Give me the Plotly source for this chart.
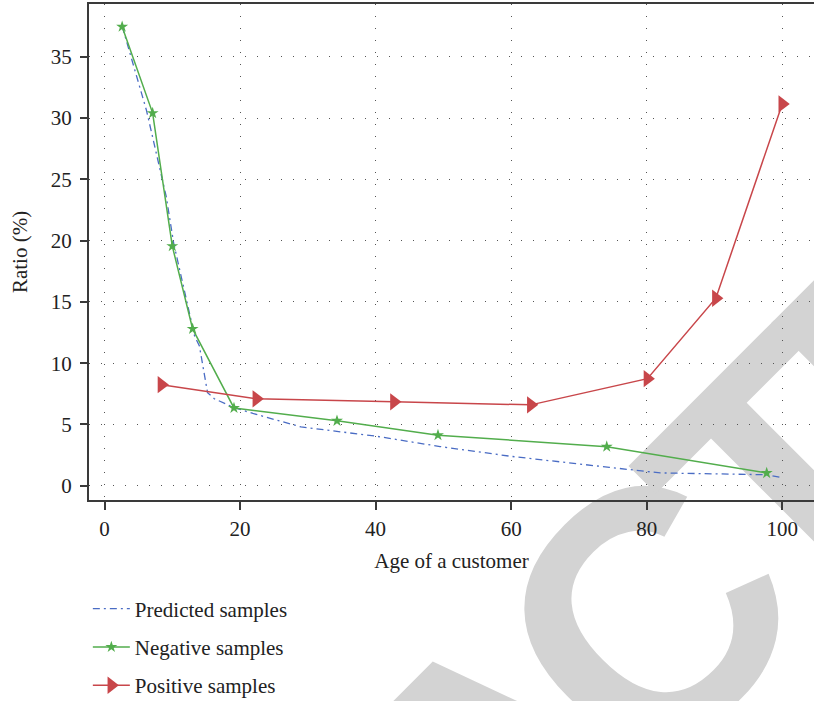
import plotly.graph_objects as go

# ---- data ----
pred_x = [2.6, 6.2, 9.1, 10.2, 13.3, 14.0, 15.2, 16.2, 19.0, 21.9, 29.0, 40.0, 49.5, 60.0, 74.5, 82.0, 97.7, 99.6]
pred_y = [37.5, 30.6, 23.6, 19.8, 12.2, 11.4, 7.6, 7.1, 6.4, 5.9, 4.8, 4.05, 3.2, 2.4, 1.5, 1.05, 0.9, 0.7]

neg_x = [2.6, 7.1, 10.0, 13.0, 19.1, 34.3, 49.2, 74.1, 97.7]
neg_y = [37.45, 30.4, 19.55, 12.8, 6.35, 5.3, 4.13, 3.19, 1.04]

pos_x = [8.4, 22.4, 42.7, 62.9, 80.1, 90.2, 100.0]
pos_y = [8.25, 7.09, 6.85, 6.6, 8.74, 15.3, 31.15]

x_ticks = [0, 20, 40, 60, 80, 100]
y_ticks = [0, 5, 10, 15, 20, 25, 30, 35]

series_names = ["Predicted samples", "Negative samples", "Positive samples"]

# watermark letters (the visible part of "RETRACTED") and their centres in paper units
wm_letters = ["A", "C", "T", "E"]
wm_x = [0.5294, 0.7366, 0.9287, 1.1160]
wm_y = [-0.4911, -0.1883, 0.0925, 0.3663]

SERIF = "Liberation Serif, Times New Roman, serif"
BLUE = "#4a6cc4"
GREEN = "#52ad4c"
RED = "#c8464a"
FS = 21

fig = go.Figure()
fig.add_trace(go.Scatter(x=pred_x, y=pred_y, mode="lines", name=series_names[0],
                         legendgroup="a",
                         line=dict(color=BLUE, width=1.3, dash="7px,4px,2px,4px")))
fig.add_trace(go.Scatter(x=neg_x, y=neg_y, mode="lines+markers", name=series_names[1],
                         legendgroup="b",
                         line=dict(color=GREEN, width=1.5),
                         marker=dict(symbol="star", size=9, color=GREEN)))
fig.add_trace(go.Scatter(x=pos_x, y=pos_y, mode="lines+markers", name=series_names[2],
                         legendgroup="c",
                         line=dict(color=RED, width=1.5),
                         marker=dict(symbol="triangle-right", size=15, color=RED)))

grid = dict(showgrid=True, gridcolor="#555555", gridwidth=1.2, griddash="1.2px,10.8px")

fig.update_xaxes(range=[-2.29, 104.68], tickvals=x_ticks, ticktext=[str(v) for v in x_ticks],
                 showline=True, linecolor="#3a3a3a", linewidth=2, mirror=True,
                 ticks="outside", ticklen=8, tickwidth=1.5, tickcolor="#3a3a3a",
                 zeroline=False, ticklabelstandoff=1, automargin=False,
                 tickfont=dict(family=SERIF, size=FS, color="#222222"),
                 title=dict(text="Age of a customer", font=dict(family=SERIF, size=FS, color="#222222"),
                            standoff=13),
                 **grid)
fig.update_yaxes(range=[-1.16, 39.3], tickvals=y_ticks, ticktext=[str(v) for v in y_ticks],
                 showline=True, linecolor="#3a3a3a", linewidth=2, mirror=False,
                 ticks="outside", ticklen=7, tickwidth=1.5, tickcolor="#3a3a3a",
                 zeroline=False, ticklabelstandoff=4, automargin=False,
                 tickfont=dict(family=SERIF, size=FS, color="#222222"),
                 title=dict(text="Ratio (%)", font=dict(family=SERIF, size=FS, color="#222222"),
                            standoff=17),
                 **grid)

# watermark drawn below the data
for ch, cx, cy in zip(wm_letters, wm_x, wm_y):
    fig.add_shape(type="rect", xref="paper", yref="paper",
                  x0=cx - 0.001, x1=cx + 0.001, y0=cy - 0.001, y1=cy + 0.001,
                  line=dict(width=0), fillcolor="rgba(0,0,0,0)", layer="below",
                  label=dict(text=ch, textangle=-45, textposition="middle center",
                             font=dict(family="Liberation Sans, Arial, sans-serif",
                                       size=350, color="#d3d3d3", weight="bold")))

fig.update_layout(
    width=814, height=701,
    margin=dict(l=89, r=0, t=4, b=201, autoexpand=False),
    paper_bgcolor="white", plot_bgcolor="rgba(0,0,0,0)",
    showlegend=True,
    legend=dict(x=-0.0016, xanchor="left", y=-0.1784, yanchor="top",
                tracegroupgap=8, itemwidth=37, bgcolor="rgba(0,0,0,0)",
                font=dict(family=SERIF, size=FS, color="#222222")),
)

fig.write_html("out.html")
